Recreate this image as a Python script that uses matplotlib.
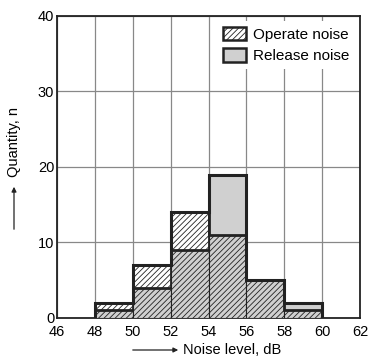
import matplotlib
matplotlib.use("Agg")
import matplotlib.pyplot as plt
from matplotlib.patches import Rectangle, Patch, FancyArrowPatch

plt.rcParams['font.family'] = ['Liberation Sans', 'DejaVu Sans']
plt.rcParams['hatch.linewidth'] = 0.6

bin_edges = [48, 50, 52, 54, 56, 58, 60]
operate_noise = [2, 7, 14, 11, 5, 1]
release_noise = [1, 4, 9, 19, 5, 2]
xticks = [46, 48, 50, 52, 54, 56, 58, 60, 62]
yticks = [0, 10, 20, 30, 40]

fig = plt.figure(figsize=(3.69, 3.63), dpi=100)
ax = fig.add_axes([0.1545, 0.124, 0.8211, 0.832])

gray = '#d0d0d0'
HATCH = '//////'
for i in range(len(operate_noise)):
    x0 = bin_edges[i]
    w = bin_edges[i + 1] - x0
    lo = min(operate_noise[i], release_noise[i])
    hi = max(operate_noise[i], release_noise[i])
    ax.add_patch(Rectangle((x0, 0), w, lo, facecolor=gray, edgecolor='#222222',
                           hatch=HATCH, linewidth=0.8, zorder=3))
    if hi > lo:
        fc = 'white' if operate_noise[i] > release_noise[i] else gray
        hatch = HATCH if operate_noise[i] > release_noise[i] else None
        ax.add_patch(Rectangle((x0, lo), w, hi - lo, facecolor=fc, edgecolor='#222222',
                               hatch=hatch, linewidth=2.0, zorder=3))

# envelope outline
env = [max(a, b) for a, b in zip(operate_noise, release_noise)]
xs = [bin_edges[0]]
ys = [0]
for i, h in enumerate(env):
    xs += [bin_edges[i], bin_edges[i + 1]]
    ys += [h, h]
xs.append(bin_edges[-1]); ys.append(0)
ax.plot(xs, ys, color='#222222', linewidth=2.2, zorder=4, solid_joinstyle='miter')

ax.set_xlim(46, 62)
ax.set_ylim(0, 40)
ax.set_xticks(xticks)
ax.set_yticks(yticks)
ax.tick_params(axis='both', length=0, labelsize=10.5)
ax.tick_params(axis='x', pad=5)
ax.tick_params(axis='y', pad=2)
ax.grid(True, color='#888888', linewidth=0.9, zorder=0)
ax.set_axisbelow(True)
for s in ax.spines.values():
    s.set_linewidth(1.3)
    s.set_color('#222222')

handles = [Patch(facecolor='white', edgecolor='#222222', hatch=HATCH, linewidth=1.8),
           Patch(facecolor=gray, edgecolor='#222222', linewidth=1.8)]
leg = ax.legend(handles, ['Operate noise', 'Release noise'], loc='upper right',
                frameon=True, fontsize=11, handlelength=1.5, handleheight=1.0,
                handletextpad=0.45, borderaxespad=0.3, labelspacing=0.4)
leg.get_frame().set_facecolor('white')
leg.get_frame().set_edgecolor('none')
leg.get_frame().set_alpha(1)
leg.set_zorder(5)

# axis labels with arrows
fig.text(183 / 369, 1 - 350 / 363, 'Noise level, dB', fontsize=10.5, va='center', ha='left')
fig.add_artist(FancyArrowPatch(
    (130 / 369, 1 - 350 / 363), (181 / 369, 1 - 350 / 363), transform=fig.transFigure,
    arrowstyle='-|>', mutation_scale=7, color='#222222', linewidth=0.9))
fig.text(14 / 369, 1 - 142 / 363, 'Quantity, n', fontsize=10.5, rotation=90,
         va='center', ha='center')
fig.add_artist(FancyArrowPatch(
    (14 / 369, 1 - 232 / 363), (14 / 369, 1 - 184 / 363), transform=fig.transFigure,
    arrowstyle='-|>', mutation_scale=7, color='#222222', linewidth=0.9))

fig.savefig('out.png', dpi=100)
